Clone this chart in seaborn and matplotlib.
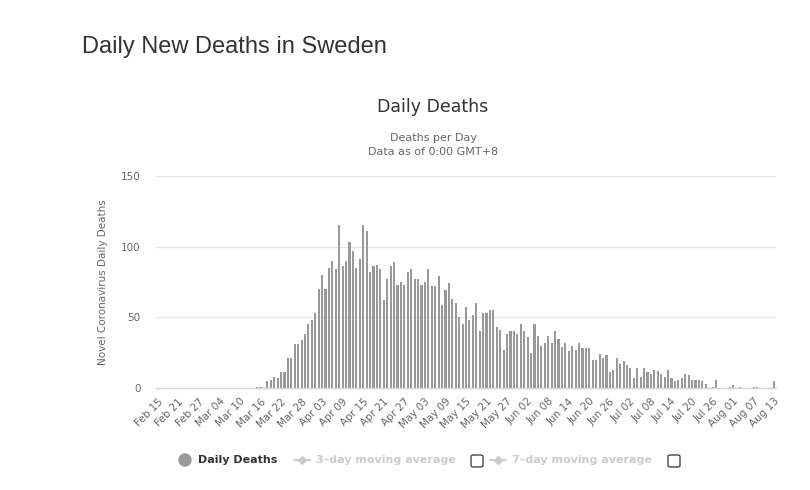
import matplotlib
matplotlib.use('Agg')
import matplotlib.pyplot as plt
import matplotlib.patches as mpatches
import matplotlib.lines as mlines
import seaborn as sns
import pandas as pd

# daily deaths, Feb 15 .. Aug 13
deaths = [0] * 29 + [
    1, 1, 0, 5, 6, 8, 7, 11, 11, 21, 21, 31, 31, 34, 38, 45, 48, 53, 70, 80,
    70, 85, 90, 84, 115, 86, 90, 103, 97, 85, 91, 115, 111, 82, 86, 87, 84, 62, 77, 86,
    89, 73, 75, 73, 82, 84, 77, 77, 73, 75, 84, 72, 72, 79, 59, 69, 74, 63, 60, 50,
    45, 57, 48, 52, 60, 40, 53, 53, 55, 55, 43, 41, 27, 38, 40, 40, 38, 45, 40, 36,
    25, 45, 37, 30, 32, 37, 32, 40, 35, 29, 32, 26, 30, 27, 32, 28, 28, 28, 20, 20,
    24, 21, 23, 11, 13, 21, 17, 19, 16, 14, 7, 14, 8, 14, 11, 10, 13, 12, 10, 8,
    13, 7, 5, 6, 7, 10, 9, 6, 6, 6, 5, 3, 0, 1, 6, 0, 0, 0, 1, 2,
    0, 1, 0, 0, 0, 1, 1, 0, 0, 0, 0, 5,
]
dates = pd.date_range('2020-02-15', '2020-08-13', freq='D').strftime('%b %d').tolist()
y_ticks = [0, 50, 100, 150]

df = pd.DataFrame({'date': dates, 'deaths': deaths})

sns.set_theme(style='white')
plt.rcParams['font.family'] = ['DejaVu Sans']

fig = plt.figure(figsize=(8.1, 4.9), dpi=100)
ax = fig.add_axes([156 / 810, 1 - 388 / 490, 620 / 810, 212 / 490])

sns.barplot(data=df, x='date', y='deaths', color='#999999', saturation=1,
            width=0.62, linewidth=0, edgecolor='none', ax=ax)

ax.set_xlim(-0.5, len(dates) - 0.5)
ax.set_ylim(0, 150)
ax.set_yticks(y_ticks)
ax.set_yticklabels([str(v) for v in y_ticks], fontsize=7.5, color='#666666')
ax.yaxis.grid(True, color='#e6e6e6', linewidth=1)
ax.set_axisbelow(True)

tick_pos = list(range(0, len(dates), 6))
ax.set_xticks(tick_pos)
ax.set_xticklabels([dates[i] for i in tick_pos], rotation=45, ha='right',
                   rotation_mode='anchor', fontsize=7.5, color='#666666')
ax.tick_params(axis='x', length=0, pad=6)
ax.tick_params(axis='y', length=0, pad=11)

for s in ['top', 'right', 'left']:
    ax.spines[s].set_visible(False)
ax.spines['bottom'].set_color('#ccd6eb')
ax.spines['bottom'].set_linewidth(1)

ax.set_xlabel('')
ax.set_ylabel('Novel Coronavirus Daily Deaths', fontsize=7.5, color='#666666', labelpad=9)

fig.text(82 / 810, 1 - 47 / 490, 'Daily New Deaths in Sweden', fontsize=17,
         color='#333333', va='center', family='Liberation Sans')
fig.text(433 / 810, 1 - 107 / 490, 'Daily Deaths', fontsize=12.5,
         color='#333333', ha='center', va='center')
fig.text(433 / 810, 1 - 138 / 490, 'Deaths per Day', fontsize=8,
         color='#666666', ha='center', va='center')
fig.text(433 / 810, 1 - 152 / 490, 'Data as of 0:00 GMT+8', fontsize=8,
         color='#666666', ha='center', va='center')

# legend row
ly = 1 - 460 / 490
fig.patches.append(mpatches.Ellipse((185 / 810, ly), 12 / 810, 12 / 490,
                                    transform=fig.transFigure, color='#999999'))
fig.text(198 / 810, ly, 'Daily Deaths', fontsize=8, fontweight='bold',
         color='#333333', va='center')
for x0, label, bx in [(294, '3\u2013day moving average', 471),
                      (490, '7\u2013day moving average', 668)]:
    fig.lines.append(mlines.Line2D([x0 / 810, (x0 + 16) / 810], [ly, ly],
                                   transform=fig.transFigure, color='#cccccc',
                                   linewidth=1.5))
    fig.lines.append(mlines.Line2D([(x0 + 8) / 810], [ly], transform=fig.transFigure,
                                   color='#cccccc', marker='D', markersize=4,
                                   linestyle='none'))
    fig.text((x0 + 22) / 810, ly, label, fontsize=8, fontweight='bold',
             color='#cccccc', va='center')
    fig.patches.append(mpatches.FancyBboxPatch(
        (bx / 810, 1 - 467 / 490), 12 / 810, 12 / 490,
        boxstyle='round,pad=0,rounding_size=0.003',
        transform=fig.transFigure, facecolor='white', edgecolor='#333333', linewidth=0.9))

fig.savefig('out.png', dpi=100, facecolor='white')
